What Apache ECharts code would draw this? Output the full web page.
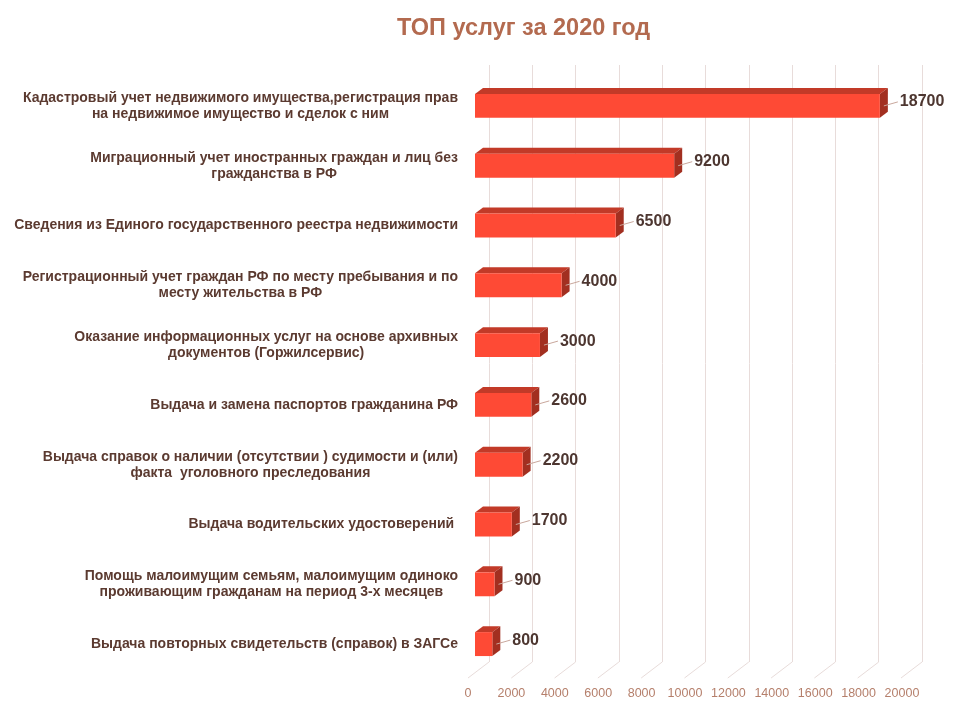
<!DOCTYPE html>
<html><head><meta charset="utf-8">
<script src="https://cdn.jsdelivr.net/npm/echarts@6/dist/echarts.min.js"></script>
<style>html,body{margin:0;padding:0;background:#fff}#c{width:960px;height:720px}</style>
</head><body><div id="c"></div>
<script>
const title = 'ТОП услуг за 2020 год';
const categories = [
  'Кадастровый учет недвижимого имущества,регистрация прав\nна недвижимое имущество и сделок с ним',
  'Миграционный учет иностранных граждан и лиц без\nгражданства в РФ',
  'Сведения из Единого государственного реестра недвижимости',
  'Регистрационный учет граждан РФ по месту пребывания и по\nместу жительства в РФ',
  'Оказание информационных услуг на основе архивных\nдокументов (Горжилсервис)',
  'Выдача и замена паспортов гражданина РФ',
  'Выдача справок о наличии (отсутствии ) судимости и (или)\nфакта  уголовного преследования',
  'Выдача водительских удостоверений ',
  'Помощь малоимущим семьям, малоимущим одиноко\nпроживающим гражданам на период 3-х месяцев',
  'Выдача повторных свидетельств (справок) в ЗАГСе'
];
const values = [18700, 9200, 6500, 4000, 3000, 2600, 2200, 1700, 900, 800];
const tickValues = [0, 2000, 4000, 6000, 8000, 10000, 12000, 14000, 16000, 18000, 20000];

const FONT = '"Liberation Sans", Arial, sans-serif';
const DX = 8, DY = 6;

const chart = echarts.init(document.getElementById('c'));
chart.setOption({
  animation: false,
  backgroundColor: '#ffffff',
  title: {
    text: title, left: 392, top: 12,
    textStyle: { fontFamily: FONT, fontSize: 23.5, fontWeight: 'bold', color: '#b36a4f' }
  },
  grid: [
    { left: 489, width: 433, top: 65, height: 597 },
    { left: 475, width: 433, top: 76, height: 598 },
    { left: 468, width: 434, top: 65, height: 613 }
  ],
  xAxis: [
    { gridIndex: 0, type: 'value', min: 0, max: 20000, interval: 2000,
      axisLine: { show: false }, axisTick: { show: false }, axisLabel: { show: false },
      splitLine: { show: true, lineStyle: { color: '#e8dcda', width: 1 } } },
    { gridIndex: 1, type: 'value', min: 0, max: 20000, interval: 2000, show: false },
    { gridIndex: 2, type: 'value', min: 0, max: 20000, interval: 2000,
      axisLine: { show: false }, axisTick: { show: false }, splitLine: { show: false },
      axisLabel: { margin: 9, fontFamily: FONT, fontSize: 12.5, color: '#b57f6b',
        formatter: function (v) { return String(v); } } }
  ],
  yAxis: [
    { gridIndex: 0, type: 'value', min: 0, max: 1, show: false },
    { gridIndex: 1, type: 'category', data: categories, inverse: true,
      axisLine: { show: false }, axisTick: { show: false }, splitLine: { show: false },
      axisLabel: {
        margin: 17,
        formatter: function (v) { return v.split('\n').map(function (l) { return '{c|' + l + '}'; }).join('\n'); },
        rich: { c: { align: 'center', fontFamily: FONT, fontSize: 14, fontWeight: 'bold', color: '#5b3a30', lineHeight: 16 } }
      } },
    { gridIndex: 2, type: 'value', min: 0, max: 1, show: false }
  ],
  series: [
    {
      type: 'custom', xAxisIndex: 0, yAxisIndex: 0, silent: true,
      data: tickValues.map(function (v) { return [v, 0]; }),
      renderItem: function (params, api) {
        const p = api.coord([api.value(0), 0]);
        return { type: 'line', shape: { x1: p[0], y1: p[1], x2: p[0] - 21, y2: p[1] + 16 },
          style: { stroke: '#e8dcda', lineWidth: 1 } };
      }
    },
    {
      type: 'custom', xAxisIndex: 1, yAxisIndex: 1,
      data: values.map(function (v, i) { return [v, i]; }),
      renderItem: function (params, api) {
        const v = api.value(0), i = api.value(1);
        const s = api.coord([0, i]);
        const e = api.coord([v, i]);
        const h = api.size([0, 1])[1] * 0.4;
        const yc = s[1];
        const x0 = s[0], x1 = e[0];
        const yt = yc - h / 2, yb = yc + h / 2;
        return { type: 'group', children: [
          { type: 'polygon', shape: { points: [[x0, yt], [x0 + DX, yt - DY], [x1 + DX, yt - DY], [x1, yt]] },
            style: { fill: '#c23a28' } },
          { type: 'polygon', shape: { points: [[x1, yt], [x1 + DX, yt - DY], [x1 + DX, yb - DY], [x1, yb]] },
            style: { fill: '#a22f20' } },
          { type: 'rect', shape: { x: x0, y: yt, width: x1 - x0, height: h },
            style: { fill: '#fe4a35' } },
          { type: 'line', shape: { x1: x1 + DX / 2, y1: yc, x2: x1 + DX + 10, y2: yc - 4 },
            style: { stroke: '#c9a79c', lineWidth: 1 } },
          { type: 'text', x: x1 + DX + 12, y: yc - 4,
            style: { text: String(v), fontFamily: FONT, fontSize: 16, fontWeight: 'bold', fill: '#4d3630',
              align: 'left', verticalAlign: 'middle' } }
        ] };
      }
    }
  ]
});
</script>
</body></html>
